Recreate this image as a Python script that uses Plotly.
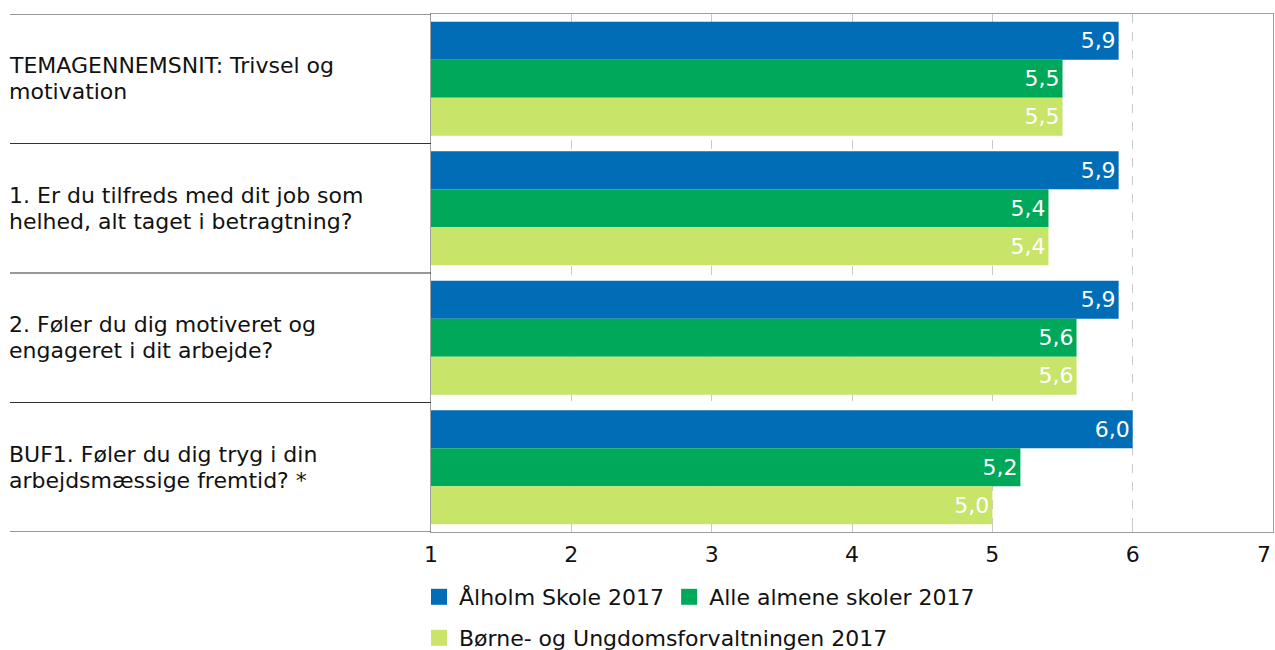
import plotly.graph_objects as go

categories = [
    "TEMAGENNEMSNIT: Trivsel og<br>motivation",
    "1. Er du tilfreds med dit job som<br>helhed, alt taget i betragtning?",
    "2. Føler du dig motiveret og<br>engageret i dit arbejde?",
    "BUF1. Føler du dig tryg i din<br>arbejdsmæssige fremtid? *",
]
series_names = ["Ålholm Skole 2017", "Alle almene skoler 2017", "Børne- og Ungdomsforvaltningen 2017"]
alholm = [5.9, 5.9, 5.9, 6.0]
alle = [5.5, 5.4, 5.6, 5.2]
buf = [5.5, 5.4, 5.6, 5.0]
series_values = [alholm, alle, buf]
colors = ["#006DB6", "#00A85A", "#C8E56A"]
x_ticks = [1, 2, 3, 4, 5, 6, 7]

FONT = "DejaVu Sans"
FS = 22
W, H = 1275, 650
ML, MR, MT, MB = 431, 2, 14, 118
PW = W - ML - MR
TXT = "#111111"

fig = go.Figure()
ycat = list(range(len(categories)))
for name, vals, col in zip(series_names, series_values, colors):
    fig.add_trace(go.Bar(
        y=ycat, x=[v - 1 for v in vals], base=1, orientation="h",
        marker=dict(color=col, line=dict(width=0)),
        text=[f"{v:.1f}".replace(".", ",") for v in vals],
        textposition="inside", insidetextanchor="end",
        textfont=dict(color="white", size=FS, family=FONT),
        showlegend=False, name=name, hoverinfo="skip",
    ))

# legend-only traces
for i, (name, col) in enumerate(zip(series_names, colors)):
    fig.add_trace(go.Scatter(
        x=[None], y=[None], mode="markers", name=name,
        marker=dict(symbol="square", size=16, color=col, line=dict(width=0)),
        legend="legend" if i < 2 else "legend2",
    ))

shapes = []
for i in range(len(categories) + 1):
    shapes.append(dict(type="line", xref="paper", yref="y", x0=(10 - ML) / PW, x1=0,
                       y0=i - 0.5, y1=i - 0.5, line=dict(color="#333333", width=1)))

annotations = []
for i, c in enumerate(categories):
    lines = c.split("<br>")
    n = len(lines)
    for j, ln in enumerate(lines):
        annotations.append(dict(text=ln, xref="paper", yref="y", x=(7 - ML) / PW, y=i,
                                yshift=(n - 1) * 13 - j * 26,
                                xanchor="left", yanchor="middle", align="left", showarrow=False,
                                font=dict(family=FONT, size=FS, color=TXT)))

# last tick label sits right-aligned at the plot edge, as in the reference
annotations.append(dict(text=str(x_ticks[-1]), xref="x", yref="paper", x=x_ticks[-1], y=0,
                        yanchor="top", xanchor="right", yshift=-8, showarrow=False,
                        font=dict(family=FONT, size=FS, color=TXT)))

fig.update_layout(
    width=W, height=H,
    margin=dict(l=ML, r=MR, t=MT, b=MB, autoexpand=False),
    paper_bgcolor="white", plot_bgcolor="white",
    barmode="group", bargap=0.12, bargroupgap=0,
    separators=",.",
    font=dict(family=FONT, size=FS, color=TXT),
    shapes=shapes, annotations=annotations,
    xaxis=dict(range=[1, 7], tickvals=x_ticks[:-1], ticktext=[str(t) for t in x_ticks[:-1]],
               showgrid=True, gridcolor="#C8C8C8", griddash="dash", gridwidth=1,
               showline=True, linecolor="#A0A0A0", linewidth=1, mirror=True,
               zeroline=False, ticks="inside", ticklen=5, tickcolor="#C8C8C8",
               ticklabelstandoff=3,
               tickfont=dict(size=FS, family=FONT, color=TXT)),
    yaxis=dict(range=[len(categories) - 0.5, -0.5], tickvals=[], showgrid=False,
               showline=True, linecolor="#A0A0A0", linewidth=1, mirror=True, zeroline=False),
    legend=dict(orientation="h", xref="container", yref="container",
                x=419 / W, xanchor="left", y=1 - 597 / H, yanchor="middle",
                font=dict(size=FS, family=FONT, color=TXT), bgcolor="rgba(0,0,0,0)",
                itemclick=False, tracegroupgap=0),
    legend2=dict(orientation="h", xref="container", yref="container",
                 x=419 / W, xanchor="left", y=1 - 638 / H, yanchor="middle",
                 font=dict(size=FS, family=FONT, color=TXT), bgcolor="rgba(0,0,0,0)",
                 itemclick=False),
)

post = ("document.body.style.margin='0';document.body.style.padding='0';"
        "document.body.style.overflow='hidden';"
        "var gd=document.getElementById('{plot_id}');"
        "Plotly.relayout(gd,{width:%d,height:%d});" % (W, H))
fig.write_html("out.html", config={"responsive": False, "displayModeBar": False},
               post_script=post)
